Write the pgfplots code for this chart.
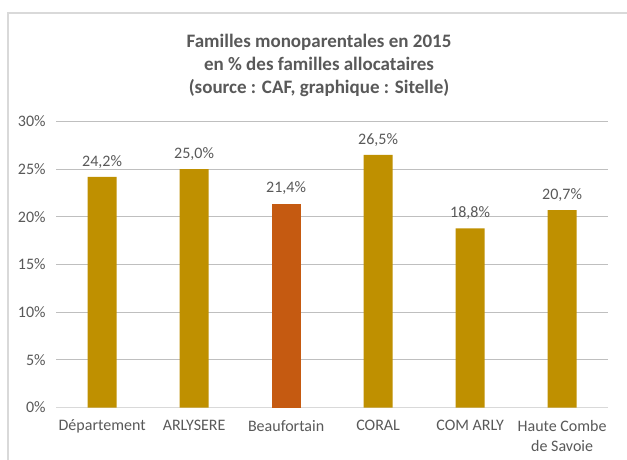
\documentclass[border=0pt]{standalone}
\usepackage{pgfplots}
\pgfplotsset{compat=1.18}
\usepackage{fontspec}
\setmainfont{Carlito}
\definecolor{txt}{HTML}{595959}
\definecolor{gold}{HTML}{BF9000}
\definecolor{orng}{HTML}{C55A11}
\definecolor{grid}{HTML}{D9D9D9}
\begin{document}
\begin{tikzpicture}[x=1pt,y=1pt]
\useasboundingbox (0,0) rectangle (627,459);
\clip (0,0) rectangle (627,459);
\fill[white] (0,0) rectangle (627,459);
\draw[grid,line width=1.2pt] (8,-20) -- (8,446) -- (650,446);
\node[text=txt,font=\fontsize{19}{23}\selectfont\bfseries,align=center] at (319,394)
  {Familles monoparentales en 2015\\en \% des familles allocataires\\(source : CAF, graphique : Sitelle)};
\begin{axis}[
  at={(61,54)}, anchor=south west,
  scale only axis, width=552, height=286,
  xmin=-0.5, xmax=5.5, ymin=0, ymax=30,
  axis line style={draw=none},
  axis x line*=bottom,
  every outer x axis line/.style={draw=grid,line width=0.8pt},
  ytick={0,5,10,15,20,25,30},
  yticklabel={\pgfmathprintnumber{\tick}\%},
  xmajorgrids=false, ymajorgrids=true, grid style={grid,line width=0.8pt},
  xtick={0,1,2,3,4,5},
  xticklabels={Département,ARLYSERE,Beaufortain,CORAL,COM ARLY,{Haute Combe\\de Savoie}},
  xticklabel style={align=center,text=txt,font=\fontsize{16}{20}\selectfont,yshift=-9pt},
  yticklabel style={text=txt,font=\fontsize{16}{20}\selectfont,xshift=-7pt},
  /pgf/number format/assume math mode=true,
  major tick length=0pt,
  ybar, bar width=29pt, bar shift=0pt,
  nodes near coords={\pgfmathprintnumber[fixed,fixed zerofill,precision=1,use comma,assume math mode=true]{\pgfplotspointmeta}\%},
  nodes near coords style={text=txt,font=\fontsize{16}{20}\selectfont,yshift=5pt},
  clip=false,
]
\addplot[fill=gold,draw=none] coordinates {(0,24.2) (1,25.0) (3,26.5) (4,18.8) (5,20.7)};
\addplot[fill=orng,draw=none] coordinates {(2,21.4)};
\end{axis}
\end{tikzpicture}
\end{document}
